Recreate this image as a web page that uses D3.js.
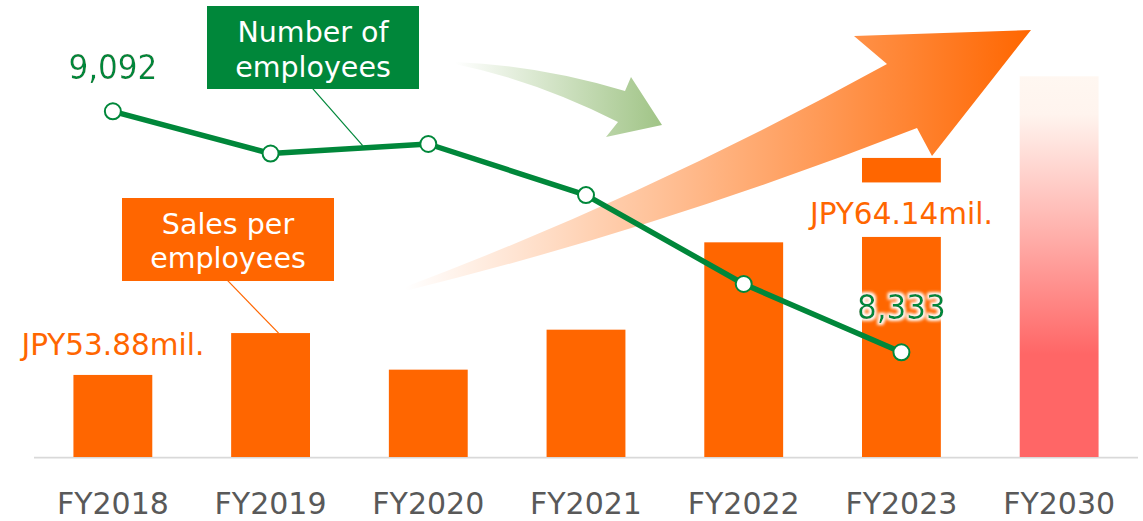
<!DOCTYPE html>
<html>
<head>
<meta charset="utf-8">
<script src="https://cdn.jsdelivr.net/npm/d3@7"></script>
<style>
  html, body { margin: 0; padding: 0; background: #ffffff; }
  svg { display: block; }
</style>
</head>
<body>
<svg id="chart" width="1143" height="521"></svg>
<script>
// Fiscal years shown on the x axis
const years = ["FY2018", "FY2019", "FY2020", "FY2021", "FY2022", "FY2023", "FY2030"];
// Sales per employee (JPY million); FY2030 is the target bar
const salesPerEmployee = [53.88, 55.86, 54.13, 56.02, 60.15, 64.14, 68.0];
// Number of employees, FY2018–FY2023
const employeeYears = ["FY2018", "FY2019", "FY2020", "FY2021", "FY2022", "FY2023"];
const employees = [9092, 8959, 8989, 8828, 8548, 8333];

const ORANGE = "#ff6600";
const GREEN = "#00873a";

const svg = d3.select("#chart");
const defs = svg.append("defs");

// Scales
const x = d3.scaleBand().domain(years).range([34, 1138]).paddingInner(0.5).paddingOuter(0.25);
const ySales = d3.scaleLinear().domain([50, 70]).range([457, 34]);
const yEmp = d3.scaleLinear().domain([8000, 9200]).range([458, 77]);

// Gradients
const gTarget = defs.append("linearGradient").attr("id", "targetGrad")
  .attr("x1", 0).attr("y1", 0).attr("x2", 0).attr("y2", 1);
[[0, "#fff7f1"], [0.1, "#fff4ee"], [0.4, "#ffb3ae"], [0.73, "#ff6666"], [1, "#ff6666"]]
  .forEach(([o, c]) => gTarget.append("stop").attr("offset", o).attr("stop-color", c));

const gOrange = defs.append("linearGradient").attr("id", "orangeArrow")
  .attr("gradientUnits", "userSpaceOnUse").attr("x1", 405).attr("y1", 0).attr("x2", 1031).attr("y2", 0);
gOrange.append("stop").attr("offset", 0).attr("stop-color", ORANGE).attr("stop-opacity", 0);
gOrange.append("stop").attr("offset", 1).attr("stop-color", ORANGE).attr("stop-opacity", 1);

const gGreen = defs.append("linearGradient").attr("id", "greenArrow")
  .attr("gradientUnits", "userSpaceOnUse").attr("x1", 455).attr("y1", 0).attr("x2", 662).attr("y2", 0);
gGreen.append("stop").attr("offset", 0).attr("stop-color", "#a0c486").attr("stop-opacity", 0);
gGreen.append("stop").attr("offset", 1).attr("stop-color", "#a0c486").attr("stop-opacity", 1);

// Soft white halo behind value labels
const glow = defs.append("filter").attr("id", "halo")
  .attr("x", "-20%").attr("y", "-40%").attr("width", "140%").attr("height", "180%");
glow.append("feMorphology").attr("in", "SourceAlpha").attr("operator", "dilate").attr("radius", 2).attr("result", "d");
glow.append("feGaussianBlur").attr("in", "d").attr("stdDeviation", 1.6).attr("result", "b");
glow.append("feFlood").attr("flood-color", "#ffffff");
glow.append("feComposite").attr("in2", "b").attr("operator", "in").attr("result", "w");
const merge = glow.append("feMerge");
merge.append("feMergeNode").attr("in", "w");
merge.append("feMergeNode").attr("in", "SourceGraphic");

// Baseline
svg.append("line")
  .attr("x1", 34).attr("x2", 1138).attr("y1", 457.6).attr("y2", 457.6)
  .attr("stroke", "#d9d9d9").attr("stroke-width", 1.6);

// Bars
const barData = years.map((y, i) => ({ year: y, value: salesPerEmployee[i], target: y === "FY2030" }));
svg.append("g").selectAll("rect").data(barData).join("rect")
  .attr("x", d => x(d.year))
  .attr("width", x.bandwidth())
  .attr("y", d => ySales(d.value))
  .attr("height", d => ySales.range()[0] - ySales(d.value))
  .attr("fill", d => d.target ? "url(#targetGrad)" : ORANGE);

// Decorative trend arrows
svg.append("path")
  .attr("d", "M405,287 Q646,196.5 887,64 L854,36 L1031,30 L932,156 L917,128 Q661,228 405,291 Z")
  .attr("fill", "url(#orangeArrow)");
svg.append("path")
  .attr("d", "M455,62 Q540,65.3 625,91 L631,77 L662,125 L606,137 L618,122 Q536.5,80.8 455,64 Z")
  .attr("fill", "url(#greenArrow)");

// Sales value labels (first and latest year)
const salesFmt = v => `JPY${v.toFixed(2)}mil.`;
const iFirst = 0, iLast = 5;
// gap cut into the FY2023 bar for its label
svg.append("rect")
  .attr("x", x(years[iLast]) - 1).attr("width", x.bandwidth() + 2)
  .attr("y", ySales(salesPerEmployee[iLast]) + 24.5).attr("height", 54.5)
  .attr("fill", "#ffffff");
[iFirst, iLast].forEach(i => {
  svg.append("text")
    .attr("x", x(years[i]) + x.bandwidth() / 2)
    .attr("y", ySales(salesPerEmployee[i]) + (i === iFirst ? -20 : 66))
    .attr("text-anchor", "middle")
    .attr("font-family", "DejaVu Sans")
    .attr("font-size", 29.5)
    .attr("fill", ORANGE)
    .text(salesFmt(salesPerEmployee[i]));
});

// Legend callouts
svg.append("line").attr("x1", 227.7).attr("y1", 280.7)
  .attr("x2", x("FY2019") + x.bandwidth() / 2 + 8).attr("y2", ySales(salesPerEmployee[1]))
  .attr("stroke", ORANGE).attr("stroke-width", 1.2);
svg.append("line").attr("x1", 312.7).attr("y1", 88.7).attr("x2", 362.7).attr("y2", 145.6)
  .attr("stroke", GREEN).attr("stroke-width", 1.2);

function callout(x0, y0, w, h, fill, lines, baselines) {
  svg.append("rect").attr("x", x0).attr("y", y0).attr("width", w).attr("height", h).attr("fill", fill);
  lines.forEach((t, k) => {
    svg.append("text")
      .attr("x", x0 + w / 2).attr("y", baselines[k])
      .attr("text-anchor", "middle")
      .attr("font-family", "DejaVu Sans")
      .attr("font-size", 28.5)
      .attr("fill", "#ffffff")
      .text(t);
  });
}
callout(207, 6, 212, 83, GREEN, ["Number of", "employees"], [41.7, 77]);
callout(122, 198, 212, 83, ORANGE, ["Sales per", "employees"], [234, 268.3]);

// Employee line
const empData = employeeYears.map((y, i) => ({ year: y, value: employees[i] }));
const cx = d => x(d.year) + x.bandwidth() / 2;
svg.append("path")
  .datum(empData)
  .attr("d", d3.line().x(cx).y(d => yEmp(d.value)))
  .attr("fill", "none").attr("stroke", GREEN).attr("stroke-width", 5.5)
  .attr("stroke-linejoin", "round");
svg.append("g").selectAll("circle").data(empData).join("circle")
  .attr("cx", cx).attr("cy", d => yEmp(d.value)).attr("r", 8)
  .attr("fill", "#ffffff").attr("stroke", GREEN).attr("stroke-width", 2);

// Employee value labels (first and latest year)
const empFmt = d3.format(",");
[[0, -32], [5, -33]].forEach(([i, dy]) => {
  svg.append("text")
    .attr("x", cx(empData[i]))
    .attr("y", yEmp(empData[i].value) + dy)
    .attr("text-anchor", "middle")
    .attr("font-family", "DejaVu Sans Condensed, DejaVu Sans")
    .attr("font-stretch", "condensed")
    .attr("font-size", 34.5)
    .attr("fill", GREEN)
    .attr("filter", "url(#halo)")
    .text(empFmt(empData[i].value));
});

// X axis labels
svg.append("g").selectAll("text").data(years).join("text")
  .attr("x", d => x(d) + x.bandwidth() / 2)
  .attr("y", 514)
  .attr("text-anchor", "middle")
  .attr("font-family", "DejaVu Sans")
  .attr("font-size", 30)
  .attr("fill", "#595959")
  .text(d => d);
</script>
</body>
</html>
